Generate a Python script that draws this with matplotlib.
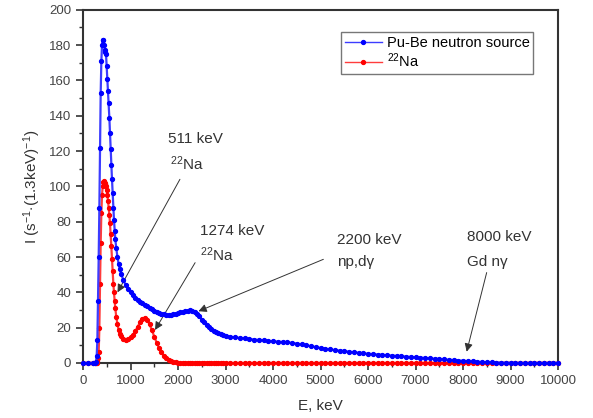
import matplotlib
matplotlib.use('Agg')
import matplotlib.pyplot as plt
from matplotlib.ticker import MultipleLocator

plt.rcParams['font.family'] = ['Liberation Sans', 'DejaVu Sans']
plt.rcParams['mathtext.fontset'] = 'custom'
plt.rcParams['mathtext.rm'] = 'Liberation Sans'
plt.rcParams['mathtext.it'] = 'Liberation Sans:italic'

# energy grid, keV
energy = [0, 100, 200, 260, 274, 288, 302, 316, 330, 344, 358, 372, 386, 400, 414, 428,
          442, 456, 470, 484, 498, 512, 526, 540, 554, 568, 582, 596, 610, 624, 638, 652,
          666, 680,
          700, 725, 750, 775, 800, 850, 900, 950, 1000, 1050, 1100, 1150, 1200, 1250, 1300,
          1350, 1400, 1450, 1500, 1550, 1600, 1650, 1700, 1750, 1800, 1850, 1900, 1950, 2000,
          2050, 2100, 2150, 2200, 2250, 2300, 2350, 2400, 2450, 2500, 2550, 2600, 2650, 2700,
          2750, 2800, 2850, 2900, 2950, 3000,
          3100, 3200, 3300, 3400, 3500, 3600, 3700, 3800, 3900, 4000, 4100, 4200, 4300, 4400,
          4500, 4600, 4700, 4800, 4900, 5000, 5100, 5200, 5300, 5400, 5500, 5600, 5700, 5800,
          5900, 6000, 6100, 6200, 6300, 6400, 6500, 6600, 6700, 6800, 6900, 7000, 7100, 7200,
          7300, 7400, 7500, 7600, 7700, 7800, 7900, 8000, 8100, 8200, 8300, 8400, 8500, 8600,
          8700, 8800, 8900, 9000, 9100, 9200, 9300, 9400, 9500, 9600, 9700, 9800, 9900, 10000]

# Pu-Be neutron source
pube = [0, 0, 0, 0, 0.5, 4, 13, 35, 60, 88, 122, 153, 171, 180, 183, 183,
        180, 177, 176, 175, 168, 161, 154, 147, 139, 130, 121, 112, 104, 96, 88, 81,
        75, 70,
        65, 60, 56, 53, 50.5, 47, 44, 42, 40, 38.5, 37, 35.8, 34.7, 33.7, 32.8,
        32, 31.2, 30.4, 29.7, 29, 28.4, 27.9, 27.6, 27.4, 27.3, 27.4, 27.6, 27.9, 28.2,
        28.6, 29, 29.3, 29.6, 29.8, 29.7, 29, 28, 26.4, 24.6, 23, 21.6, 20.3, 19.2,
        18.2, 17.4, 16.8, 16.2, 15.8, 15.4,
        14.9, 14.5, 14.2, 14, 13.6, 13.3, 13, 12.8, 12.5, 12.3, 12.1, 11.9, 11.7, 11.4,
        11, 10.5, 10, 9.5, 9, 8.5, 8.1, 7.7, 7.3, 7, 6.7, 6.4, 6.1, 5.8,
        5.5, 5.2, 5, 4.8, 4.6, 4.4, 4.2, 4, 3.8, 3.6, 3.4, 3.2, 3, 2.8,
        2.6, 2.4, 2.2, 2, 1.8, 1.6, 1.4, 1.2, 1, 0.85, 0.7, 0.55, 0.45, 0.35,
        0.25, 0.2, 0.15, 0.1, 0.05, 0, 0, 0, 0, 0, 0, 0, 0, 0]

# 22Na
na22 = [0, 0, 0, 0, 0, 0, 1, 3, 6, 20, 45, 68, 85, 95, 100, 102.5,
        103, 102, 101.5, 100.5, 98, 95, 92, 88, 84, 79, 73, 66, 59, 52, 45, 40,
        35, 31,
        26, 22, 18.5, 16.5, 15.5, 13.8, 13.2, 13.5, 14.5, 16, 18, 20.5, 23, 25, 25.5,
        24.5, 22, 18.5, 15, 11.5, 8.5, 6, 4, 2.6, 1.6, 1, 0.6, 0.3, 0.1,
        0, 0, 0, 0, 0, 0, 0, 0, 0, 0, 0, 0, 0, 0,
        0, 0, 0, 0, 0, 0,
        0, 0, 0, 0, 0, 0, 0, 0, 0, 0, 0, 0, 0, 0,
        0, 0, 0, 0, 0, 0, 0, 0, 0, 0, 0, 0, 0, 0,
        0, 0, 0, 0, 0, 0, 0, 0, 0, 0, 0, 0, 0, 0,
        0, 0, 0, 0, 0, 0, 0, 0, 0, 0, 0, 0, 0, 0,
        0, 0, 0, 0, 0, 0, 0, 0, 0, 0, 0, 0, 0, 0]

fig = plt.figure(figsize=(5.93, 4.18), dpi=100)
ax = fig.add_axes([0.14, 0.1316, 0.801, 0.845])

ax.plot(energy, pube, color='#3c3cff', lw=1.6, marker='o', ms=2.8,
        mfc='blue', mec='blue', label='Pu-Be neutron source', zorder=4, clip_on=False)
ax.plot(energy, na22, color='#ff3c3c', lw=1.6, marker='o', ms=2.8,
        mfc='red', mec='red', label=r'$^{22}$Na', zorder=3, clip_on=False)

ax.set_xlim(0, 10000)
ax.set_ylim(0, 200)
ax.xaxis.set_major_locator(MultipleLocator(1000))
ax.xaxis.set_minor_locator(MultipleLocator(500))
ax.yaxis.set_major_locator(MultipleLocator(20))
ax.yaxis.set_minor_locator(MultipleLocator(10))
ax.tick_params(which='major', direction='out', length=5, width=1.2, colors='#333333',
               labelsize=9.5, labelcolor='#444444')
ax.tick_params(which='minor', direction='out', length=3, width=1.0, colors='#333333')
for s in ax.spines.values():
    s.set_linewidth(1.5)
    s.set_color('#333333')

ax.set_xlabel('E, keV', fontsize=11, color='#333333', labelpad=9)
ax.set_ylabel(r'I (s$^{-1}$$\cdot$(1.3keV)$^{-1}$)', fontsize=11, color='#333333', labelpad=4)

leg = ax.legend(loc='upper right', bbox_to_anchor=(0.948, 0.937), borderaxespad=0,
                fontsize=10.5, fancybox=False, frameon=True, handlelength=2.6,
                borderpad=0.25, labelspacing=0.15, handletextpad=0.3)
leg.get_frame().set_edgecolor('#555555')
leg.get_frame().set_linewidth(1.0)
leg.set_zorder(5)
for line in leg.get_lines():
    line.set_linewidth(1.0)

arrow = dict(arrowstyle='-|>', color='#333333', lw=0.7, mutation_scale=12, shrinkA=0, shrinkB=0)
tc = '#333333'
ax.text(1790, 127, '511 keV', fontsize=11, color=tc, va='center')
ax.text(1830, 113, r'$^{22}$Na', fontsize=11, color=tc, va='center')
ax.annotate('', xy=(726, 40), xytext=(2040, 104), arrowprops=arrow)

ax.text(2470, 74.5, '1274 keV', fontsize=11, color=tc, va='center')
ax.text(2470, 61.5, r'$^{22}$Na', fontsize=11, color=tc, va='center')
ax.annotate('', xy=(1516, 18.7), xytext=(2360, 56.8), arrowprops=arrow)

ax.text(5340, 69.7, '2200 keV', fontsize=11, color=tc, va='center')
ax.text(5340, 57.4, 'np,dγ', fontsize=11, color=tc, va='center')
ax.annotate('', xy=(2430, 29.3), xytext=(5060, 58.7), arrowprops=arrow)

ax.text(8077, 71.6, '8000 keV', fontsize=11, color=tc, va='center')
ax.text(8077, 57.4, 'Gd nγ', fontsize=11, color=tc, va='center')
ax.annotate('', xy=(8077, 6.4), xytext=(8498, 51.2), arrowprops=arrow)

fig.savefig('out.png', dpi=100)
